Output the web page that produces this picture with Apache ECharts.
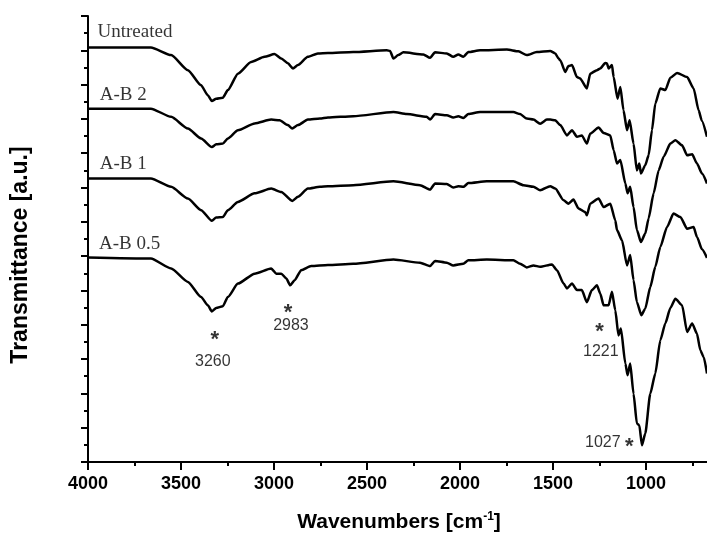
<!DOCTYPE html>
<html>
<head>
<meta charset="utf-8">
<script src="https://cdn.jsdelivr.net/npm/echarts@6/dist/echarts.min.js"></script>
<style>
  html, body { margin: 0; padding: 0; background: #fff; }
  #chart { width: 707px; height: 533px; }
</style>
</head>
<body>
<div id="chart"></div>
<script>
// FTIR spectra, values: [wavenumber cm-1, transmittance a.u. (stacked)]
const curveNames = ["Untreated", "A-B 2", "A-B 1", "A-B 0.5"];

const untreated = [
  [4000, 12.08], [3662, 12.08], [3553, 11.86], [3463, 11.42], [3392, 10.98], [3356, 10.69],
  [3334, 10.52], [3311, 10.59], [3275, 10.62], [3248, 10.84], [3194, 11.32], [3123, 11.66],
  [3051, 11.81], [2997, 11.89], [2961, 11.76], [2925, 11.62], [2898, 11.47], [2871, 11.57],
  [2818, 11.81], [2764, 11.91], [2710, 11.92], [2574, 11.95], [2394, 12.00], [2376, 11.98],
  [2358, 11.76], [2332, 11.86], [2305, 11.94], [2197, 11.88], [2161, 11.78], [2134, 11.94],
  [2071, 11.91], [2036, 11.81], [2009, 11.88], [1982, 11.81], [1955, 11.95], [1892, 12.00],
  [1748, 12.02], [1686, 11.97], [1641, 11.86], [1587, 11.95], [1515, 11.98], [1488, 11.91],
  [1470, 11.76], [1461, 11.71], [1434, 11.37], [1417, 11.54], [1398, 11.57], [1371, 11.22],
  [1354, 11.18], [1318, 10.89], [1300, 11.32], [1264, 11.42], [1246, 11.47], [1219, 11.63],
  [1210, 11.62], [1201, 11.47], [1183, 11.57], [1174, 11.22], [1153, 10.59], [1138, 10.93],
  [1121, 10.25], [1102, 9.67], [1088, 9.96], [1067, 9.28], [1049, 8.50], [1036, 8.70],
  [1027, 8.41], [1004, 8.65], [986, 8.94], [968, 9.67], [950, 10.45], [923, 10.89],
  [896, 10.84], [869, 11.20], [833, 11.34], [779, 11.22], [744, 10.89], [717, 10.25],
  [700, 9.95], [672, 9.48]
];

const ab2 = [
  [4000, 10.30], [3662, 10.30], [3553, 10.06], [3463, 9.72], [3392, 9.43], [3334, 9.18],
  [3311, 9.26], [3275, 9.28], [3248, 9.43], [3194, 9.67], [3104, 9.87], [3015, 9.98],
  [2970, 9.96], [2925, 9.82], [2902, 9.72], [2871, 9.82], [2818, 9.98], [2753, 10.01],
  [2710, 10.04], [2574, 10.08], [2358, 10.20], [2286, 10.14], [2179, 10.06], [2161, 9.98],
  [2134, 10.14], [2071, 10.11], [2036, 10.04], [2009, 10.08], [1982, 10.03], [1955, 10.14],
  [1892, 10.20], [1713, 10.20], [1677, 10.14], [1641, 10.01], [1605, 9.98], [1569, 9.86],
  [1533, 9.98], [1515, 9.98], [1488, 9.96], [1461, 9.82], [1425, 9.52], [1398, 9.67],
  [1371, 9.48], [1345, 9.52], [1318, 9.28], [1300, 9.57], [1255, 9.75], [1228, 9.59],
  [1192, 9.52], [1174, 9.09], [1156, 8.70], [1138, 8.80], [1111, 8.12], [1099, 7.83],
  [1085, 8.02], [1067, 7.43], [1049, 6.76], [1027, 6.41], [1004, 6.66], [986, 7.10],
  [959, 7.83], [932, 8.50], [905, 8.90], [869, 9.28], [842, 9.38], [806, 9.23],
  [779, 8.94], [752, 8.97], [726, 8.70], [699, 8.41], [672, 8.12]
];

const ab1 = [
  [4000, 8.26], [3662, 8.26], [3553, 8.02], [3463, 7.68], [3392, 7.34], [3334, 7.03],
  [3311, 7.13], [3275, 7.14], [3248, 7.34], [3194, 7.58], [3104, 7.83], [3015, 7.97],
  [2961, 7.87], [2902, 7.61], [2871, 7.73], [2818, 7.97], [2753, 8.02], [2710, 8.04],
  [2574, 8.07], [2358, 8.18], [2215, 8.07], [2161, 7.94], [2134, 8.12], [2071, 8.10],
  [2036, 8.00], [2009, 8.04], [1982, 8.02], [1955, 8.13], [1856, 8.18], [1713, 8.18],
  [1659, 8.07], [1605, 8.02], [1569, 7.92], [1515, 8.04], [1488, 7.97], [1443, 7.63],
  [1417, 7.53], [1390, 7.65], [1363, 7.39], [1327, 7.29], [1318, 7.19], [1300, 7.53],
  [1255, 7.68], [1228, 7.43], [1192, 7.53], [1165, 7.04], [1156, 6.76], [1129, 6.46],
  [1102, 5.73], [1085, 6.03], [1067, 5.30], [1049, 4.66], [1025, 4.28], [1004, 4.47],
  [977, 5.10], [950, 5.69], [923, 6.27], [887, 6.85], [852, 7.24], [815, 7.14],
  [779, 6.80], [744, 6.85], [726, 6.56], [699, 6.20], [672, 5.95]
];

const ab05 = [
  [4000, 5.96], [3662, 5.93], [3553, 5.64], [3463, 5.25], [3392, 4.81], [3356, 4.57],
  [3334, 4.39], [3311, 4.49], [3275, 4.54], [3248, 4.81], [3194, 5.20], [3104, 5.49],
  [3015, 5.64], [2988, 5.49], [2961, 5.49], [2934, 5.35], [2913, 5.15], [2889, 5.30],
  [2854, 5.59], [2800, 5.71], [2710, 5.74], [2574, 5.78], [2358, 5.90], [2215, 5.81],
  [2161, 5.71], [2134, 5.86], [2071, 5.81], [2036, 5.73], [1982, 5.78], [1955, 5.88],
  [1856, 5.90], [1713, 5.88], [1677, 5.78], [1641, 5.67], [1605, 5.73], [1569, 5.69],
  [1506, 5.76], [1479, 5.59], [1443, 5.20], [1425, 5.06], [1398, 5.20], [1371, 5.01],
  [1345, 5.01], [1318, 4.66], [1291, 5.01], [1264, 5.15], [1246, 4.91], [1228, 4.57],
  [1201, 4.57], [1183, 4.96], [1165, 4.42], [1148, 3.69], [1135, 3.89], [1111, 2.87],
  [1099, 2.53], [1085, 2.87], [1067, 1.99], [1049, 1.12], [1036, 1.07], [1022, 0.49],
  [1004, 0.83], [977, 1.99], [950, 2.58], [923, 3.55], [896, 4.04], [869, 4.49],
  [842, 4.76], [806, 4.57], [779, 3.79], [752, 4.04], [726, 3.74], [708, 3.26],
  [690, 3.06], [672, 2.58]
];

// curve name labels: [wavenumber, level, text]
const curveLabels = [
  [3949, 12.54, "Untreated"],
  [3937, 10.69, "A-B 2"],
  [3937, 8.68, "A-B 1"],
  [3941, 6.34, "A-B 0.5"]
];

// peak markers and their wavenumber labels
const peakStars = [[3318, 3.56], [2925, 4.34], [1250, 3.78], [1090, 0.45]];
const peakTexts = [
  [3329, 2.94, "3260"],
  [2909, 3.98, "2983"],
  [1243, 3.22, "1221"],
  [1232, 0.57, "1027"]
];

const FONT = "Liberation Sans, Arial, sans-serif";
const SERIF = "Liberation Serif, Times New Roman, serif";

const chart = echarts.init(document.getElementById("chart"), null, { renderer: "canvas" });

const spectra = [untreated, ab2, ab1, ab05].map((data, i) => ({
  name: curveNames[i],
  type: "line",
  data: data,
  showSymbol: false,
  smooth: 0.2,
  smoothMonotone: "x",
  lineStyle: { color: "#000", width: 2.5 },
  silent: true
}));

chart.setOption({
  animation: false,
  backgroundColor: "#fff",
  // plot runs past the right edge of the picture (x axis is cut at ~670 cm-1)
  grid: { left: 88, top: 16, width: 651, height: 446, outerBoundsMode: "none", containLabel: false },
  xAxis: {
    type: "value",
    inverse: true,
    min: 500,
    max: 4000,
    interval: 500,
    name: "{b|Wavenumbers [cm}{s|-1}{b|]}",
    nameLocation: "middle",
    nameGap: 49,
    nameTextStyle: {
      padding: [0, 29, 0, 0],
      rich: {
        b: { fontFamily: FONT, fontWeight: "bold", fontSize: 21, color: "#000" },
        s: { fontFamily: FONT, fontWeight: "bold", fontSize: 12, color: "#000", verticalAlign: "top", padding: [0, 0, 10, 0] }
      }
    },
    axisLine: { lineStyle: { color: "#000", width: 2 } },
    axisTick: { inside: false, length: 8, lineStyle: { color: "#000", width: 2 } },
    minorTick: { show: true, splitNumber: 2, length: 4, lineStyle: { color: "#000", width: 2 } },
    axisLabel: {
      color: "#000", fontFamily: FONT, fontWeight: "bold", fontSize: 18, margin: 13,
      formatter: (v) => String(v)
    },
    splitLine: { show: false }
  },
  yAxis: {
    type: "value",
    min: 0,
    max: 13,
    interval: 1,
    name: "Transmittance [a.u.]",
    nameLocation: "middle",
    nameRotate: 90,
    nameGap: 56,
    nameTextStyle: { fontFamily: FONT, fontWeight: "bold", fontSize: 23, color: "#000", padding: [0, 32, 0, 0] },
    axisLine: { show: true, lineStyle: { color: "#000", width: 2 } },
    axisTick: { inside: false, length: 7, lineStyle: { color: "#000", width: 2 } },
    minorTick: { show: true, splitNumber: 2, length: 4, lineStyle: { color: "#000", width: 2 } },
    axisLabel: { show: false },
    splitLine: { show: false }
  },
  series: spectra.concat([
    {
      type: "scatter",
      symbolSize: 0,
      silent: true,
      data: curveLabels.map((d) => ({ value: [d[0], d[1]], name: d[2] })),
      label: {
        show: true,
        position: "inside",
        align: "left",
        verticalAlign: "middle",
        formatter: (p) => p.name,
        fontFamily: SERIF,
        fontSize: 19,
        color: "#000"
      }
    },
    {
      type: "scatter",
      symbolSize: 0,
      silent: true,
      data: peakStars,
      label: {
        show: true,
        position: "inside",
        align: "center",
        verticalAlign: "middle",
        formatter: "*",
        fontFamily: FONT,
        fontWeight: "bold",
        fontSize: 22,
        color: "#000"
      }
    },
    {
      type: "scatter",
      symbolSize: 0,
      silent: true,
      data: peakTexts.map((d) => ({ value: [d[0], d[1]], name: d[2] })),
      label: {
        show: true,
        position: "inside",
        align: "center",
        verticalAlign: "middle",
        formatter: (p) => p.name,
        fontFamily: FONT,
        fontSize: 16,
        color: "#000"
      }
    }
  ])
});
</script>
</body>
</html>
